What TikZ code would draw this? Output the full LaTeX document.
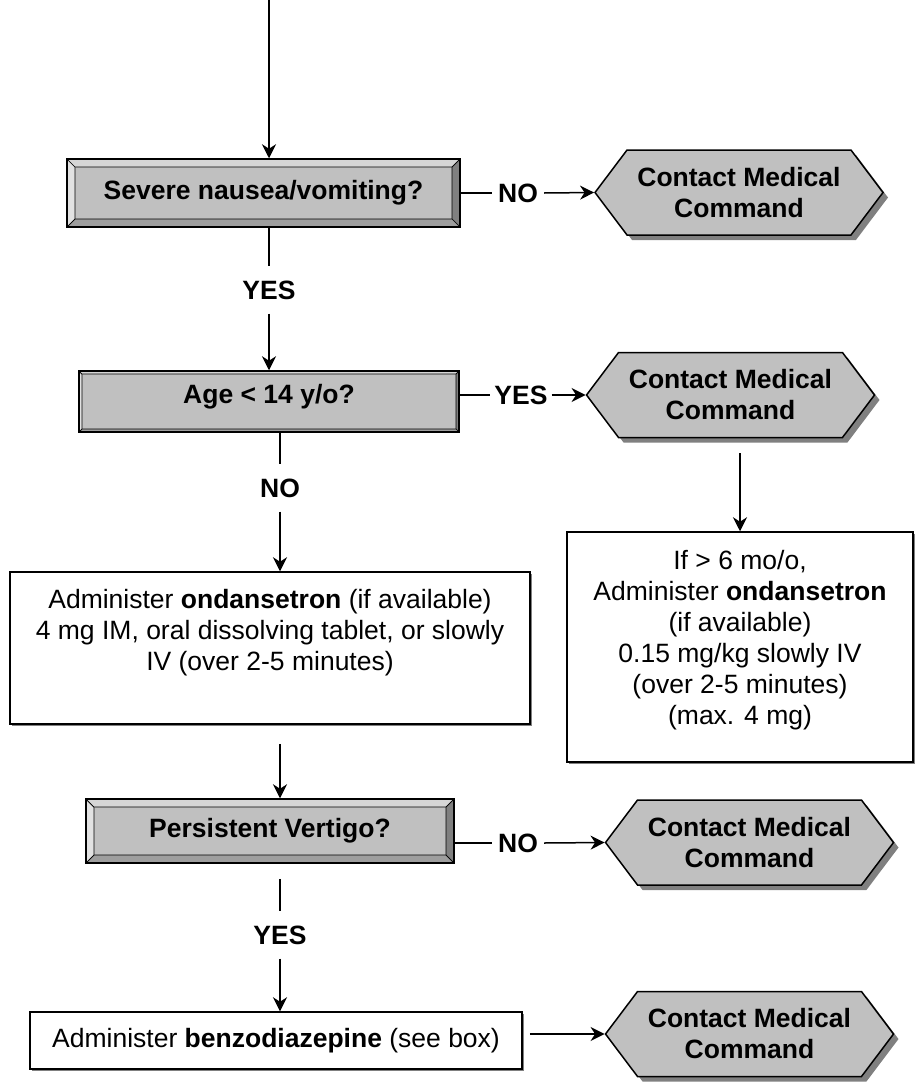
\documentclass[tikz,border=0pt]{standalone}
\usepackage{fontspec}
\setmainfont{Liberation Sans}
\usetikzlibrary{arrows.meta,shapes.symbols,shadows}

\definecolor{facegray}{RGB}{192,192,192}
\definecolor{shadegray}{RGB}{128,128,128}
\definecolor{toplight}{RGB}{214,214,214}
\definecolor{leftlight}{RGB}{226,226,226}
\definecolor{botdark}{RGB}{158,158,158}
\newcommand{\chartfont}{\fontsize{26.5}{31}\selectfont}

\tikzset{
 qbox/.style={draw, line width=1.5pt, fill=facegray, inner sep=0pt, font=\chartfont\bfseries,
  path picture={
   \coordinate (tl) at (path picture bounding box.north west);
   \coordinate (tr) at (path picture bounding box.north east);
   \coordinate (bl) at (path picture bounding box.south west);
   \coordinate (br) at (path picture bounding box.south east);
   \coordinate (itl) at ([xshift=#1,yshift=-#1]tl);
   \coordinate (itr) at ([xshift=-#1,yshift=-#1]tr);
   \coordinate (ibl) at ([xshift=#1,yshift=#1]bl);
   \coordinate (ibr) at ([xshift=-#1,yshift=#1]br);
   \filldraw[fill=leftlight, line width=.7pt] (tl) -- (bl) -- (ibl) -- (itl) -- cycle;
   \filldraw[fill=toplight, line width=.7pt] (tl) -- (tr) -- (itr) -- (itl) -- cycle;
   \filldraw[fill=shadegray, line width=.7pt] (tr) -- (br) -- (ibr) -- (itr) -- cycle;
   \filldraw[fill=botdark, line width=.7pt] (bl) -- (br) -- (ibr) -- (ibl) -- cycle;
  }},
 hexa/.style={signal, signal to=west and east, signal pointer angle=106, draw, line width=1.5pt,
  fill=facegray, minimum width=288pt, minimum height=85pt, inner sep=0pt, align=center,
  font=\chartfont\bfseries, drop shadow={shadow xshift=5pt, shadow yshift=-5pt, fill=shadegray, opacity=1}},
 tbox/.style={draw, line width=1.5pt, fill=white, inner sep=0pt, font=\chartfont,
  drop shadow={shadow xshift=1.5pt, shadow yshift=-1.5pt, fill=shadegray, opacity=1}},
 lbl/.style={font=\chartfont\bfseries, inner xsep=6pt, inner ysep=14pt},
 conn/.style={line width=1.5pt},
 arr/.style={conn, -{Stealth[length=14pt,width=14pt,inset=4.5pt]}}
}

\begin{document}
\begin{tikzpicture}[x=1pt, y=-1pt]
\useasboundingbox (0,0) rectangle (915,1082);

\coordinate (start) at (269,0);
\node[qbox=8pt, minimum width=393pt, minimum height=68pt] (q1) at (263.5,193) {Severe nausea/vomiting?};
\node[hexa] (h1) at (739,192.5) {Contact Medical\\Command};
\node[lbl] (no1) at (518,193) {NO};
\node[lbl] (yes1) at (269,290) {YES};

\node[qbox=3pt, minimum width=380pt, minimum height=61pt, text height=20pt, text depth=16pt] (q2) at (269,401.5) {Age < 14 y/o?};
\node[hexa] (h2) at (730.5,395) {Contact Medical\\Command};
\node[lbl, inner xsep=4pt] (yes2) at (521,395) {YES};
\node[lbl] (no2) at (280,488) {NO};

\node[tbox, minimum width=520pt, minimum height=152pt] (a1) at (270,648)
 {\begin{tabular}{@{}c@{}}Administer \textbf{ondansetron} (if available)\\
  4 mg IM, oral dissolving tablet, or slowly\\ IV (over 2-5 minutes)\\[29pt]\end{tabular}};
\node[tbox, minimum width=346pt, minimum height=230pt] (r) at (740,647)
 {\begin{tabular}{@{}c@{}}If > 6 mo/o,\\ Administer \textbf{ondansetron}\\ (if available)\\
  0.15 mg/kg slowly IV\\ (over 2-5 minutes)\\ (max. 4 mg)\\[12pt]\end{tabular}};

\node[qbox=8pt, minimum width=368pt, minimum height=64pt] (q3) at (270,831) {Persistent Vertigo?};
\node[hexa] (h3) at (749.5,842.5) {Contact Medical\\Command};
\node[lbl] (no3) at (518,843) {NO};
\node[lbl] (yes3) at (280,935) {YES};

\node[tbox, minimum width=492pt, minimum height=57pt] (a2) at (276,1040.5) {Administer \textbf{benzodiazepine} (see box)};
\node[hexa] (h4) at (749.5,1034) {Contact Medical\\Command};

\draw[arr] (start) -- (start |- q1.north);
\draw[conn] (q1.east |- no1) -- (no1.west);
\draw[arr] (no1.east) -- (h1.west);
\draw[conn] (q1.south -| yes1) -- (yes1.north);
\draw[arr] (yes1.south) -- (yes1 |- q2.north);

\draw[conn] (q2.east |- yes2) -- (yes2.west);
\draw[arr] (yes2.east) -- (h2.west);
\draw[arr, shorten <=15pt] (h2.south -| r.north) -- (r.north);
\draw[conn] (q2.south -| no2) -- (no2.north);
\draw[arr] (no2.south) -- (no2 |- a1.north);

\draw[arr, shorten <=19pt] (a1.south -| no2) -- (no2 |- q3.north);
\draw[conn] (q3.east |- no3) -- (no3.west);
\draw[arr] (no3.east) -- (h3.west);
\draw[conn, shorten <=15pt] (q3.south -| yes3) -- (yes3.north);
\draw[arr] (yes3.south) -- (yes3 |- a2.north);
\draw[arr, shorten <=7pt] (a2.east |- h4.west) -- (h4.west);
\end{tikzpicture}
\end{document}
